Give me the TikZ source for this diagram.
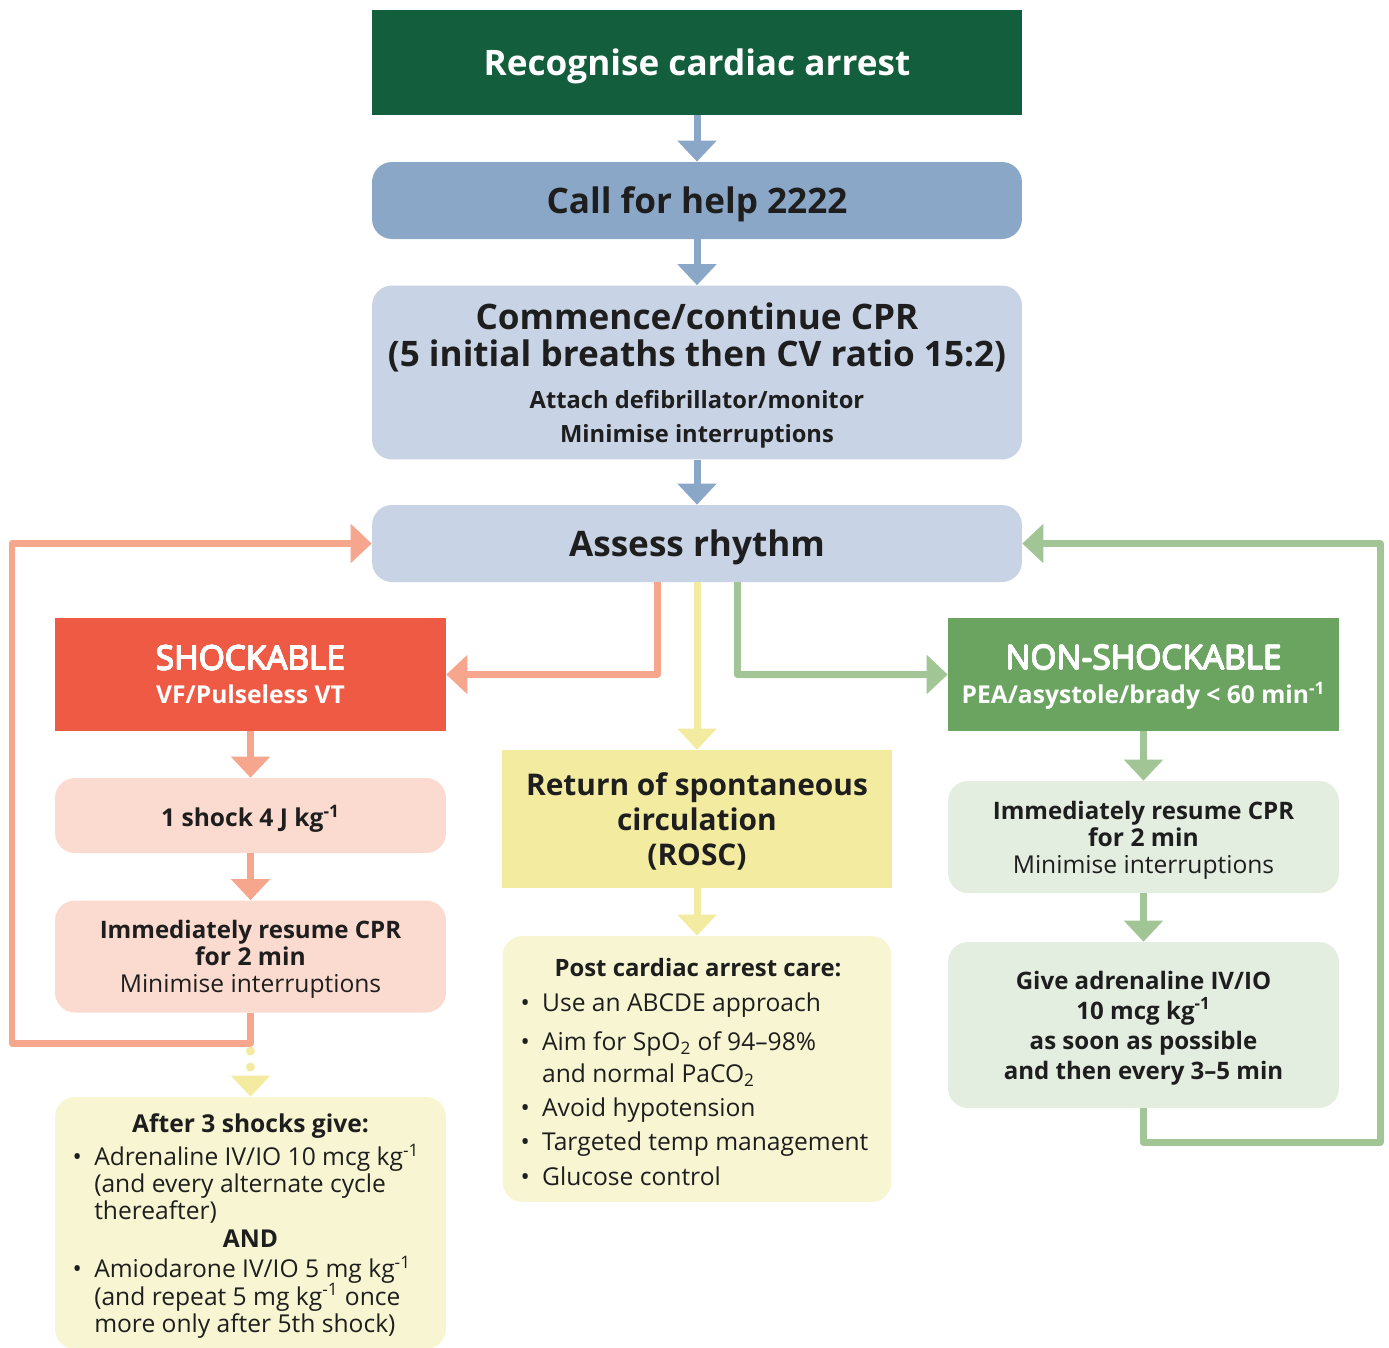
\documentclass[tikz,border=0pt]{standalone}
\usepackage{fontspec}
\setmainfont{Open Sans}
\usepackage{contour}
\contourlength{0.3pt}
\contournumber{16}
\usetikzlibrary{arrows.meta}

\definecolor{arrestgreen}{HTML}{135E3C}
\definecolor{callblue}{HTML}{8BA7C7}
\definecolor{paleblue}{HTML}{C8D4E5}
\definecolor{shockred}{HTML}{EE5A44}
\definecolor{shockline}{HTML}{F6A68D}
\definecolor{shockpale}{HTML}{FBDBCF}
\definecolor{nonshockgreen}{HTML}{6BA461}
\definecolor{nonshockline}{HTML}{A1C595}
\definecolor{nonshockpale}{HTML}{E3EDE0}
\definecolor{roscyellow}{HTML}{F3EBA0}
\definecolor{roscpale}{HTML}{F7F5D2}
\definecolor{txtgray}{HTML}{1E1E1E}

\newcommand\bighead{\fontsize{20}{24}\selectfont\bfseries}
\newcommand\smallbold{\fontsize{13.5}{17}\selectfont\bfseries}
\newcommand\unitsup[1]{\smash{\textsuperscript{#1}}}
\newcommand\branchtitle[1]{{\fontsize{19}{22}\selectfont\contour{white}{#1}}}

\tikzset{
  card/.style={minimum width=7.82cm, inner sep=0pt, align=center, text=txtgray, text depth=0pt},
  widecard/.style={card, minimum width=13cm},
  roundcard/.style={rounded corners=0.4cm},
  flowline/.style={line width=0.14cm, -{Triangle[width=0.76cm,length=0.42cm]}},
  backline/.style={flowline, line join=round},
}

\begin{document}
\begin{tikzpicture}[x=0.02cm,y=-0.02cm]
  \def\midx{697}
  \def\leftx{250.5}
  \def\rightx{1143.5}

  \fill[white] (0,0) rectangle (1389,1347);
  \useasboundingbox (0,0) rectangle (1389,1347);

  % Top column
  \node[widecard, fill=arrestgreen, text=white, minimum height=2.1cm] (recog) at (\midx,62.5)
    {\bighead Recognise cardiac arrest};
  \node[widecard, roundcard, fill=callblue, minimum height=1.54cm] (call) at (\midx,200.5)
    {\bighead Call for help 2222};
  \node[widecard, roundcard, fill=paleblue, minimum height=3.48cm, font=\fontsize{13.5}{19.4}\selectfont] (cpr) at (\midx,372.5)
    {{\bighead Commence/continue CPR}\\[1.6pt]
     {\bighead (5 initial breaths then CV ratio 15:2)}\\[4.5pt]
     {\smallbold Attach defibrillator/monitor}\\
     {\smallbold Minimise interruptions}};
  \node[widecard, roundcard, fill=paleblue, minimum height=1.54cm] (assess) at (\midx,543.5)
    {\bighead Assess rhythm};

  % Shockable side
  \node[card, fill=shockred, text=white, minimum height=2.26cm, font=\fontsize{14}{19}\selectfont] (shock) at (\leftx,674.5)
    {\branchtitle{SHOCKABLE}\\
     {\bfseries VF/Pulseless VT}};
  \node[card, roundcard, fill=shockpale, minimum height=1.5cm] (oneshock) at (\leftx,815.5)
    {\fontsize{14}{17}\selectfont\bfseries 1 shock 4 J kg\textsuperscript{-1}};
  \node[card, roundcard, fill=shockpale, minimum height=2.24cm, font=\fontsize{14}{15.4}\selectfont] (cprL) at (\leftx,956.5)
    {{\fontsize{13.7}{15.4}\selectfont\bfseries Immediately resume CPR}\\
     {\bfseries for 2 min}\\
     Minimise interruptions};
  \node[card, roundcard, fill=roscpale, minimum height=5.04cm] (after) at (\leftx,1223)
    {\fontsize{14}{15.5}\selectfont
     \begin{tabular}[b]{@{}l@{\hspace{7pt}}l@{}}
       \multicolumn{2}{c}{\hspace{0.18cm}\bfseries After 3 shocks give:}\\[3pt]
       \textbullet & Adrenaline IV/IO 10 mcg kg\unitsup{-1}\\
        & (and every alternate cycle\\
        & thereafter)\\
       \multicolumn{2}{c}{\hspace{0.18cm}\bfseries AND}\\[2pt]
       \textbullet & Amiodarone IV/IO 5 mg kg\unitsup{-1}\\
        & (and repeat 5 mg kg\unitsup{-1} once\\
        & more only after 5th shock)
     \end{tabular}\hspace{0.18cm}};

  % ROSC
  \node[card, fill=roscyellow, minimum width=7.82cm, minimum height=2.76cm, font=\fontsize{17}{20}\selectfont] (rosc) at (\midx,819)
    {{\bfseries Return of spontaneous}\\
     {\bfseries circulation}\\
     {\bfseries (ROSC)}};
  \node[card, roundcard, fill=roscpale, minimum width=7.78cm, minimum height=5.32cm] (post) at (\midx,1069)
    {\fontsize{14}{19.4}\selectfont
     \begin{tabular}[b]{@{}l@{\hspace{7pt}}l@{}}
       \multicolumn{2}{c}{\hspace{0.14cm}\fontsize{13.6}{19.4}\selectfont\bfseries Post cardiac arrest care:}\\[0.5pt]
       \textbullet & Use an ABCDE approach\\[2.8pt]
       \textbullet & Aim for SpO\textsubscript{2} of 94--98\%\\[-1.2pt]
        & and normal PaCO\textsubscript{2}\\
       \textbullet & Avoid hypotension\\
       \textbullet & Targeted temp management\\
       \textbullet & Glucose control
     \end{tabular}\hspace{0.1cm}};

  % Non-shockable side
  \node[card, fill=nonshockgreen, text=white, minimum height=2.26cm, font=\fontsize{14}{19.5}\selectfont] (nonshock) at (\rightx,674.5)
    {\branchtitle{NON-SHOCKABLE}\\
     {\bfseries PEA/asystole/brady < 60 min\unitsup{-1}}};
  \node[card, roundcard, fill=nonshockpale, minimum height=2.24cm, font=\fontsize{14}{15.4}\selectfont] (cprR) at (\rightx,837)
    {{\fontsize{13.7}{15.4}\selectfont\bfseries Immediately resume CPR}\\
     {\bfseries for 2 min}\\
     Minimise interruptions};
  \node[card, roundcard, fill=nonshockpale, minimum height=3.32cm, font=\fontsize{13.7}{17.1}\selectfont] (adr) at (\rightx,1025)
    {{\bfseries Give adrenaline IV/IO}\\
     {\bfseries 10 mcg kg\unitsup{-1}}\\
     {\bfseries as soon as possible}\\
     {\bfseries and then every 3--5 min}};

  % Arrows down the middle
  \draw[flowline, draw=callblue] (recog) -- (call);
  \draw[flowline, draw=callblue] (call) -- (cpr);
  \draw[flowline, draw=callblue] (cpr) -- (assess);
  \draw[flowline, draw=roscyellow] (assess) -- (rosc);
  \draw[flowline, draw=roscyellow] (rosc) -- (post);

  % Branches
  \draw[backline, draw=shockline] ([xshift=-0.8cm]assess.south) |- (shock.east);
  \draw[backline, draw=nonshockline] ([xshift=0.8cm]assess.south) |- (nonshock.west);
  \draw[flowline, draw=shockline] (shock) -- (oneshock);
  \draw[flowline, draw=shockline] (oneshock) -- (cprL);
  \draw[flowline, draw=nonshockline] (nonshock) -- (cprR);
  \draw[flowline, draw=nonshockline] (cprR) -- (adr);

  % Loops back to rhythm check
  \coordinate (leftturn) at (12,1043);
  \coordinate (rightturn) at (1380,1142);
  \draw[backline, draw=shockline] (cprL.south) |- (leftturn) |- (assess.west);
  \draw[backline, draw=nonshockline] (adr.south) |- (rightturn) |- (assess.east);

  % Dotted lead into the drugs box
  \coordinate (dots) at (\leftx,1051);
  \draw[flowline, draw=roscyellow, line width=0.18cm, line cap=round, dash pattern=on 0pt off 0.32cm] (dots) -- (after);
\end{tikzpicture}
\end{document}
